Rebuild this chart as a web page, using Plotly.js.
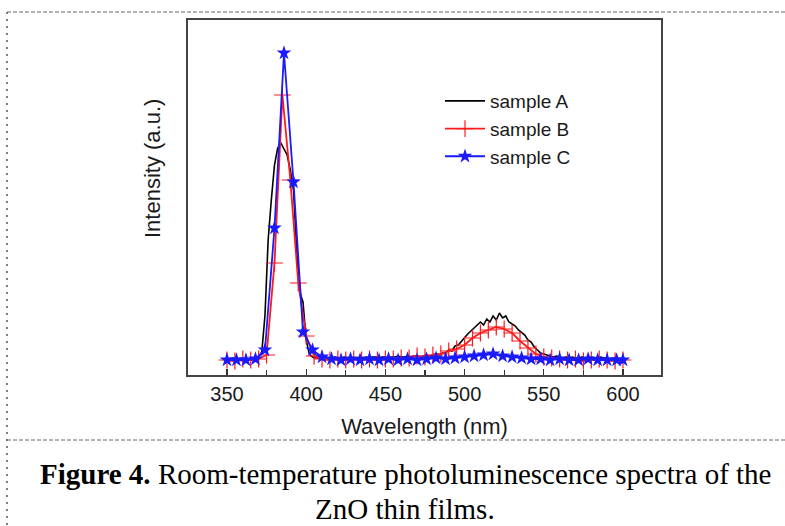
<!DOCTYPE html>
<html>
<head>
<meta charset="utf-8">
<script src="https://cdn.plot.ly/plotly-3.0.1.min.js"></script>
<style>
  html, body { margin: 0; padding: 0; background: #ffffff; }
  #chart { width: 785px; height: 526px; }
</style>
</head>
<body>
<div id="chart"></div>
<script>
// ---- Data (wavelength in nm, intensity in arbitrary units) ----
const wavelengthA = [
  350,352,354,356,358,360,362,364,366,368,
  370,372,374,376,378,380,382,384,386,388,390,392,394,396,398,400,402,404,406,408,
  410,412,414,416,418,420,422,424,426,428,430,432,434,436,438,440,442,444,446,448,450,452,454,456,458,460,
  462,464,466,468,470,472,474,476,478,480,482,484,486,
  488,490,492,494,496,498,500,502,504,506,508,510,512,514,516,518,520,522,524,526,528,530,532,534,536,538,540,542,544,546,548,
  550,552,554,556,558,560,562,564,566,568,570,572,574,576,578,580,582,584,586,588,590,592,594,596,598,600
];
const intensityA = [
  1,1,2,1,1,2,1,1,2,2,
  3,8,45,120,160,195,212,217,211,205,190,170,110,68,58,20,6,3,2,2,
  2,3,2,2,3,2,2,3,2,3,2,2,3,2,3,2,3,3,2,3,3,2,3,3,4,3,
  3,4,3,4,4,3,4,5,4,5,6,5,7,
  7,10,9,14,15,19,22,26,29,32,34,38,35,41,38,44,40,47,42,44,38,36,34,30,27,25,20,18,13,10,7,
  6,5,4,3,4,3,2,3,2,3,2,2,3,2,2,3,2,2,3,2,2,1,2,2,1,1
];

const wavelengthB = [
  350,355,360,365,370,375,380,385,390,395,400,405,410,415,420,425,430,435,440,445,
  450,455,460,465,470,475,480,485,490,495,500,505,510,515,520,525,530,535,540,545,
  550,555,560,565,570,575,580,585,590,595,600
];
const intensityB = [
  0,-1,1,0,1,5,97,265,180,77,24,4,1,0,1,0,1,0,1,0,
  1,1,2,2,4,3,5,6,9,11,15,22,27,30,33,31,27,19,12,6,
  3,2,1,0,1,-1,0,1,0,-1,0
];

const wavelengthC = [
  350,356,362,368,374,380,386,392,398,404,410,416,422,428,434,440,446,452,458,464,
  470,476,482,488,494,500,506,512,518,524,530,536,542,548,554,560,566,572,578,584,590,596,600
];
const intensityC = [
  0,0,0,1,10,132,307,178,28,10,3,1,0,1,0,1,0,1,0,1,
  0,1,2,1,2,3,4,5,6,4,3,2,1,1,0,1,0,0,1,0,0,0,0
];

const seriesNames = ["sample A", "sample B", "sample C"];
const xTickVals = [350, 400, 450, 500, 550, 600];
const xTickText = ["350", "400", "450", "500", "550", "600"];

const axisTitleX = "Wavelength (nm)";
const axisTitleY = "Intensity (a.u.)";
const captionBold = "Figure 4.";
const captionLine1 = " Room-temperature photoluminescence spectra of the";
const captionLine2 = "ZnO thin films.";

// ---- Plot geometry helpers (pixel -> paper) ----
const W = 785, H = 526;
const M = {l: 188, r: 124, t: 20, b: 151};
const pw = W - M.l - M.r, ph = H - M.t - M.b;
const px = v => (v - M.l) / pw;
const py = v => (H - M.b - v) / ph;

const sans = "Liberation Sans, Arial, Helvetica, sans-serif";
const serif = "Liberation Serif, Times New Roman, serif";

const traces = [
  {
    x: wavelengthA, y: intensityA, name: seriesNames[0],
    type: "scatter", mode: "lines",
    line: {color: "#000000", width: 1.6}
  },
  {
    x: wavelengthB, y: intensityB, name: seriesNames[1],
    type: "scatter", mode: "lines+markers",
    line: {color: "#ff1a1a", width: 1.8},
    marker: {symbol: "cross-thin", size: 12, color: "#ff1a1a", line: {color: "#ff1a1a", width: 1.2}}
  },
  {
    x: wavelengthC, y: intensityC, name: seriesNames[2],
    type: "scatter", mode: "lines+markers",
    line: {color: "#1a1aff", width: 1.8},
    marker: {symbol: "star", size: 11, color: "#1a1aff"}
  }
];

const layout = {
  width: W, height: H,
  margin: M,
  paper_bgcolor: "#ffffff",
  plot_bgcolor: "#ffffff",
  showlegend: true,
  font: {family: sans, color: "#1a1a1a"},
  xaxis: {
    range: [325.4, 624],
    tickmode: "array", tickvals: xTickVals, ticktext: xTickText,
    ticks: "inside", ticklen: 6, tickwidth: 1.3, tickcolor: "#333",
    minor: {dtick: 25, tick0: 325, ticks: "inside", ticklen: 5, tickwidth: 1.3, tickcolor: "#333"},
    showline: true, linecolor: "#444", linewidth: 1.8, mirror: true,
    showgrid: false, zeroline: false,
    tickfont: {family: sans, size: 20, color: "#1a1a1a"},
    title: {text: axisTitleX, font: {family: sans, size: 22, color: "#1a1a1a"}, standoff: 15}
  },
  yaxis: {
    range: [-15, 340],
    showticklabels: false, ticks: "",
    showline: true, linecolor: "#444", linewidth: 1.8, mirror: true,
    showgrid: false, zeroline: false
  },
  legend: {
    x: px(440), y: py(82), xanchor: "left", yanchor: "top",
    bgcolor: "rgba(0,0,0,0)", borderwidth: 0,
    font: {family: sans, size: 19, color: "#1a1a1a"},
    itemwidth: 40, tracegroupgap: 0
  },
  annotations: [
    {
      text: axisTitleY, xref: "paper", yref: "paper",
      x: px(152), y: py(169), textangle: -90, showarrow: false,
      xanchor: "center", yanchor: "middle",
      font: {family: sans, size: 22, color: "#1a1a1a"}
    },
    {
      text: "<b>" + captionBold + "</b>" + captionLine1,
      xref: "paper", yref: "paper", x: px(405), y: py(474),
      xanchor: "center", yanchor: "middle", showarrow: false,
      font: {family: serif, size: 29, color: "#000"}
    },
    {
      text: captionLine2,
      xref: "paper", yref: "paper", x: px(405), y: py(509),
      xanchor: "center", yanchor: "middle", showarrow: false,
      font: {family: serif, size: 29, color: "#000"}
    }
  ],
  shapes: [
    {type: "line", xref: "paper", yref: "paper", x0: px(7), x1: px(785), y0: py(12), y1: py(12),
     line: {color: "#666", width: 1, dash: "4px,2px"}},
    {type: "line", xref: "paper", yref: "paper", x0: px(7), x1: px(785), y0: py(440), y1: py(440),
     line: {color: "#666", width: 1, dash: "4px,2px"}},
    {type: "line", xref: "paper", yref: "paper", x0: px(7), x1: px(7), y0: py(12), y1: py(526),
     line: {color: "#555", width: 1.5, dash: "2px,5px"}}
  ]
};

Plotly.newPlot("chart", traces, layout, {displayModeBar: false, staticPlot: true});
</script>
</body>
</html>
